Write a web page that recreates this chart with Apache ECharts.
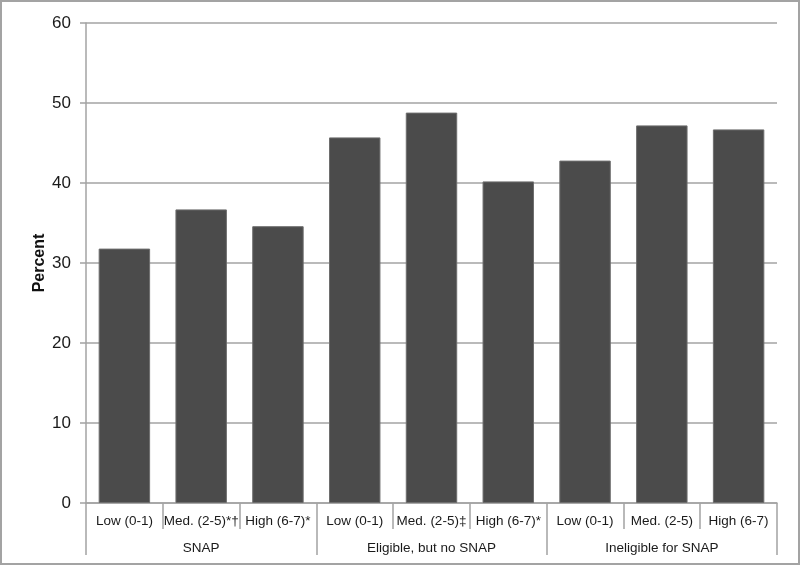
<!DOCTYPE html>
<html>
<head>
<meta charset="utf-8">
<script src="https://cdn.jsdelivr.net/npm/echarts@6/dist/echarts.min.js"></script>
<style>
  html, body { margin: 0; padding: 0; background: #fff; }
  #chart { width: 800px; height: 565px; box-sizing: border-box; border: 2px solid #a3a3a3; }
</style>
</head>
<body>
<div id="chart"></div>
<script>
  // categories (grouped by SNAP status)
  var categories = ['Low (0-1)', 'Med. (2-5)*\u2020', 'High (6-7)*',
                    'Low (0-1)', 'Med. (2-5)\u2021', 'High (6-7)*',
                    'Low (0-1)', 'Med. (2-5)', 'High (6-7)'];
  var groups = ['SNAP', 'Eligible, but no SNAP', 'Ineligible for SNAP'];
  var percent = [31.8, 36.7, 34.6, 45.7, 48.8, 40.2, 42.8, 47.2, 46.7];
  var yTicks = [0, 10, 20, 30, 40, 50, 60];

  var chart = echarts.init(document.getElementById('chart'));
  var gray = '#a3a3a3';
  var font = 'Liberation Sans, Arial, sans-serif';

  chart.setOption({
    animation: false,
    grid: { left: 84, right: 21, top: 21, bottom: 60 },
    xAxis: [{
      type: 'category',
      data: categories,
      position: 'bottom',
      axisLine: { show: true, lineStyle: { color: gray, width: 1.5 } },
      axisTick: { show: true, length: 26, lineStyle: { color: gray, width: 1.5 } },
      axisLabel: { interval: 0, margin: 11, fontSize: 13.5, color: '#1a1a1a', fontFamily: font }
    }, {
      type: 'category',
      data: groups,
      position: 'bottom',
      axisLine: { show: false },
      axisTick: { show: true, length: 52, lineStyle: { color: gray, width: 1.5 } },
      axisLabel: { interval: 0, margin: 38, fontSize: 13.5, color: '#1a1a1a', fontFamily: font }
    }],
    yAxis: {
      type: 'value',
      min: yTicks[0],
      max: yTicks[yTicks.length - 1],
      interval: 10,
      name: 'Percent',
      nameLocation: 'middle',
      nameGap: 38,
      nameMoveOverlap: false,
      nameTextStyle: { fontSize: 16, fontWeight: 'bold', color: '#111', fontFamily: font },
      axisLine: { show: true, lineStyle: { color: gray, width: 1.5 } },
      axisTick: { show: true, length: 6, lineStyle: { color: gray, width: 1.5 } },
      axisLabel: { margin: 15, fontSize: 17, color: '#1a1a1a', fontFamily: font },
      splitLine: { show: true, lineStyle: { color: gray, width: 1.5 } }
    },
    series: [{
      type: 'bar',
      xAxisIndex: 0,
      data: percent,
      barCategoryGap: '33%',
      itemStyle: { color: '#4b4b4b', borderColor: '#6e6e6e', borderWidth: 1 }
    }]
  });
</script>
</body>
</html>
